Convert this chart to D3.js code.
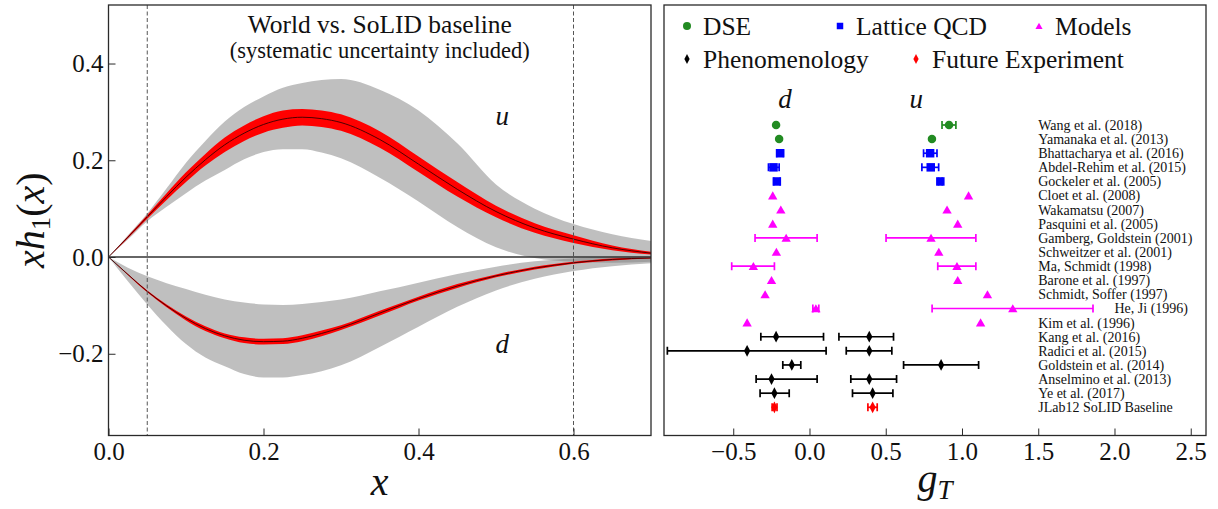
<!DOCTYPE html>
<html>
<head>
<meta charset="utf-8">
<script src="https://cdn.jsdelivr.net/npm/d3@7"></script>
<style>
body { margin: 0; background: #fff; }
</style>
</head>
<body>
<script>
// ---------- left panel data: x h1(x) for u and d ----------
const xs = [0, 0.025, 0.05, 0.075, 0.1, 0.125, 0.15, 0.175, 0.2, 0.225, 0.25, 0.275, 0.3, 0.35, 0.4, 0.45, 0.5, 0.55, 0.6, 0.65, 0.7]

const uCentral = [0, 0.041, 0.083, 0.125, 0.165, 0.201, 0.232, 0.256, 0.274, 0.285, 0.289, 0.286, 0.278, 0.243, 0.192, 0.140, 0.094, 0.060, 0.037, 0.019, 0.008]
const uRedHi   = [0, 0.043, 0.087, 0.132, 0.175, 0.213, 0.247, 0.272, 0.291, 0.303, 0.306, 0.303, 0.295, 0.260, 0.208, 0.155, 0.106, 0.070, 0.045, 0.024, 0.011]
const uRedLo   = [0, 0.039, 0.079, 0.118, 0.155, 0.189, 0.217, 0.240, 0.257, 0.267, 0.272, 0.269, 0.261, 0.226, 0.176, 0.125, 0.082, 0.050, 0.029, 0.014, 0.005]
const uGrayHi  = [0, 0.045, 0.090, 0.142, 0.195, 0.240, 0.280, 0.310, 0.332, 0.350, 0.360, 0.366, 0.368, 0.346, 0.303, 0.235, 0.150, 0.100, 0.068, 0.047, 0.033]
const uGrayLo  = [0, 0.036, 0.074, 0.104, 0.132, 0.158, 0.180, 0.202, 0.217, 0.223, 0.223, 0.216, 0.204, 0.164, 0.115, 0.062, 0.020, -0.002, -0.010, -0.012, -0.010]

const dCentral = [0, -0.036, -0.071, -0.101, -0.127, -0.148, -0.163, -0.172, -0.175, -0.174, -0.168, -0.158, -0.146, -0.116, -0.086, -0.060, -0.039, -0.023, -0.012, -0.005, -0.002]
const dRedHi   = [0, -0.035, -0.069, -0.098, -0.123, -0.143, -0.158, -0.166, -0.169, -0.168, -0.162, -0.152, -0.141, -0.111, -0.082, -0.056, -0.036, -0.020, -0.010, -0.003, -0.001]
const dRedLo   = [0, -0.037, -0.073, -0.104, -0.131, -0.153, -0.168, -0.178, -0.181, -0.180, -0.174, -0.164, -0.151, -0.121, -0.090, -0.064, -0.042, -0.026, -0.014, -0.007, -0.003]
const dGrayHi  = [0, -0.022, -0.040, -0.054, -0.066, -0.078, -0.088, -0.094, -0.098, -0.099, -0.097, -0.093, -0.088, -0.071, -0.053, -0.035, -0.020, -0.009, -0.003, 0.001, 0.002]
const dGrayLo  = [0, -0.050, -0.098, -0.142, -0.180, -0.208, -0.226, -0.242, -0.249, -0.249, -0.244, -0.236, -0.224, -0.186, -0.144, -0.103, -0.069, -0.045, -0.029, -0.019, -0.013]

const xTicks = [0, 0.2, 0.4, 0.6]
const yTicks = [-0.2, 0, 0.2, 0.4]
const cutLines = [0.05, 0.6]

// ---------- right panel data: tensor charges g_T ----------
const refs = ['Wang et al. (2018)', 'Yamanaka et al. (2013)', 'Bhattacharya et al. (2016)', 'Abdel-Rehim et al. (2015)',
  'Gockeler et al. (2005)', 'Cloet et al. (2008)', 'Wakamatsu (2007)', 'Pasquini et al. (2005)',
  'Gamberg, Goldstein (2001)', 'Schweitzer et al. (2001)', 'Ma, Schmidt (1998)', 'Barone et al. (1997)',
  'Schmidt, Soffer (1997)', 'He, Ji (1996)', 'Kim et al. (1996)', 'Kang et al. (2016)', 'Radici et al. (2015)',
  'Goldstein et al. (2014)', 'Anselmino et al. (2013)', 'Ye et al. (2017)', 'JLab12 SoLID Baseline']
const groups = ['DSE', 'DSE', 'Lattice', 'Lattice', 'Lattice', 'Models', 'Models', 'Models', 'Models', 'Models',
  'Models', 'Models', 'Models', 'Models', 'Models', 'Phen', 'Phen', 'Phen', 'Phen', 'Phen', 'Future']

const dVal = [-0.219, -0.199, -0.193, -0.236, -0.214, -0.241, -0.188, -0.241, -0.153, -0.217, -0.368, -0.249, -0.291, 0.042, -0.409, -0.219, -0.409, -0.116, -0.249, -0.230, -0.230]
const dLo  = [null, null, -0.214, -0.269, -0.234, null, null, null, -0.357, null, -0.510, null, null, 0.022, null, -0.319, -0.932, -0.175, -0.350, -0.324, -0.245]
const dHi  = [null, null, -0.171, -0.199, -0.193, null, null, null, 0.050, null, -0.230, null, null, 0.061, null, 0.092, 0.109, -0.057, 0.050, -0.133, -0.213]

const uVal = [0.915, 0.803, 0.791, 0.795, 0.858, 1.043, 0.902, 0.972, 0.797, 0.848, 0.967, 0.972, 1.167, 1.333, 1.122, 0.392, 0.392, 0.863, 0.392, 0.414, 0.414]
const uLo  = [0.869, null, 0.748, 0.737, 0.846, null, null, null, 0.502, null, 0.841, null, null, 0.804, null, 0.193, 0.241, 0.617, 0.271, 0.282, 0.383]
const uHi  = [0.960, null, 0.836, 0.847, 0.870, null, null, null, 1.091, null, 1.091, null, null, 1.859, null, 0.551, 0.540, 1.109, 0.571, 0.547, 0.444]

const refLabelPos = [1.5, 1.5, 1.5, 1.5, 1.5, 1.5, 1.5, 1.5, 1.5, 1.5, 1.5, 1.5, 1.5, 2.0, 1.5, 1.5, 1.5, 1.5, 1.5, 1.5, 1.5]
const gTicks = [-0.5, 0, 0.5, 1.0, 1.5, 2.0, 2.5]
const legendKeys = ['DSE', 'Lattice', 'Models', 'Phen', 'Future']
const legendLabels = ['DSE', 'Lattice QCD', 'Models', 'Phenomenology', 'Future Experiment']

// ---------- setup ----------
const width = 1218
const height = 509
const frameColor = '#2a2a2a'
const serif = "'Liberation Serif', 'Times New Roman', serif"

const svg = d3.select('body').append('svg')
  .attr('width', width)
  .attr('height', height)
  .style('font-family', serif)

const L = {left: 108.5, right: 651, top: 5, bottom: 435.5}
const R = {left: 664, right: 1206, top: 5, bottom: 435.5}

const xScale = d3.scaleLinear().domain([0, 0.7]).range([L.left, L.right])
const yScale = d3.scaleLinear().domain([-0.369, 0.521]).range([L.bottom, L.top])

const addText = (x, y, size, str) => svg.append('text')
  .attr('x', x).attr('y', y)
  .style('font-family', serif).style('font-size', size + 'px').attr('fill', '#111')
  .text(str)

// ========== left panel ==========
svg.append('clipPath').attr('id', 'clipL').append('rect')
  .attr('x', L.left).attr('y', L.top)
  .attr('width', L.right - L.left).attr('height', L.bottom - L.top)

const left = svg.append('g').attr('clip-path', 'url(#clipL)')

const band = (lo, hi) => d3.area()
  .x((d, i) => xScale(xs[i]))
  .y0((d, i) => yScale(lo[i]))
  .y1((d, i) => yScale(hi[i]))
  .curve(d3.curveMonotoneX)(xs)

const curve = (vals) => d3.line()
  .x((d, i) => xScale(xs[i]))
  .y((d, i) => yScale(vals[i]))
  .curve(d3.curveMonotoneX)(xs)

left.append('path').attr('d', band(uGrayLo, uGrayHi)).attr('fill', 'gray').attr('fill-opacity', 0.5)
left.append('path').attr('d', band(dGrayLo, dGrayHi)).attr('fill', 'gray').attr('fill-opacity', 0.5)
left.append('path').attr('d', band(uRedLo, uRedHi)).attr('fill', '#ff0000')
left.append('path').attr('d', band(dRedLo, dRedHi)).attr('fill', '#ff0000')
left.append('path').attr('d', curve(uCentral)).attr('fill', 'none').attr('stroke', '#3a0000').attr('stroke-width', 0.9)
left.append('path').attr('d', curve(dCentral)).attr('fill', 'none').attr('stroke', '#3a0000').attr('stroke-width', 0.9)

// zero line
left.append('line')
  .attr('x1', xScale(0)).attr('x2', xScale(0.7))
  .attr('y1', yScale(0)).attr('y2', yScale(0))
  .attr('stroke', '#333').attr('stroke-width', 1.5)

// x range of the measurement
left.selectAll('line.cut')
  .data(cutLines)
  .join('line')
  .attr('class', 'cut')
  .attr('x1', d => xScale(d)).attr('x2', d => xScale(d))
  .attr('y1', L.top).attr('y2', L.bottom)
  .attr('stroke', '#555').attr('stroke-width', 1)
  .attr('stroke-dasharray', '4,2.5')

// axes (ticks pointing inward)
const styleAxis = g => {
  g.attr('font-family', null)
  g.select('.domain').remove()
  g.selectAll('line').attr('stroke', frameColor).attr('stroke-width', 1)
  g.selectAll('text').style('font-size', '25px').style('font-family', serif).attr('fill', '#111')
}
const xAxis = d3.axisBottom(xScale).tickValues(xTicks).tickFormat(d3.format('.1f')).tickSize(-7).tickPadding(7)
const yAxis = d3.axisLeft(yScale).tickValues(yTicks).tickFormat(d3.format('.1f')).tickSize(-7).tickPadding(5)
svg.append('g').attr('transform', `translate(0,${L.bottom})`).call(xAxis).call(styleAxis)
svg.append('g').attr('transform', `translate(${L.left},0)`).call(yAxis).call(styleAxis)

svg.append('rect')
  .attr('x', L.left).attr('y', L.top)
  .attr('width', L.right - L.left).attr('height', L.bottom - L.top)
  .attr('fill', 'none').attr('stroke', frameColor).attr('stroke-width', 1.3)

// titles and labels
const cx = (L.left + L.right) / 2
addText(cx, 33, 25.5, 'World vs. SoLID baseline').attr('text-anchor', 'middle')
addText(cx, 58, 22.5, '(systematic uncertainty included)').attr('text-anchor', 'middle')

addText(xScale(0.508), 125, 27, 'u').attr('text-anchor', 'middle').style('font-style', 'italic')
addText(xScale(0.508), 353, 27, 'd').attr('text-anchor', 'middle').style('font-style', 'italic')
addText(cx, 495, 40, 'x').attr('text-anchor', 'middle').style('font-style', 'italic')

const ylab = svg.append('text')
  .attr('transform', `translate(44,${(L.top + L.bottom) / 2}) rotate(-90)`)
  .attr('text-anchor', 'middle')
  .style('font-family', serif).style('font-size', '40px').attr('fill', '#111')
ylab.append('tspan').style('font-style', 'italic').text('xh')
ylab.append('tspan').style('font-size', '27px').attr('dy', 6).text('1')
ylab.append('tspan').attr('dy', -6).text('(')
ylab.append('tspan').style('font-style', 'italic').text('x')
ylab.append('tspan').text(')')

// ========== right panel ==========
const gScale = d3.scaleLinear().domain([-0.954, 2.6]).range([R.left, R.right])
const rowScale = d3.scaleLinear().domain([0, refs.length - 1]).range([125, 407.3])

const styles = {
  DSE: {color: '#228b22', shape: 'circle'},
  Lattice: {color: '#0000ff', shape: 'square'},
  Models: {color: '#ff00ff', shape: 'triangle'},
  Phen: {color: '#000000', shape: 'diamond'},
  Future: {color: '#ff0000', shape: 'diamond'}
}

const markerPath = (shape, s) => {
  if (shape === 'circle') return d3.symbol(d3.symbolCircle, Math.PI * s * s / 4)()
  if (shape === 'square') return `M${-s / 2},${-s / 2}h${s}v${s}h${-s}Z`
  if (shape === 'triangle') return `M0,${-s * 0.5}L${s * 0.55},${s * 0.45}L${-s * 0.55},${s * 0.45}Z`
  return `M0,${-s * 0.62}L${s * 0.33},0L0,${s * 0.62}L${-s * 0.33},0Z`
}

const right = svg.append('g')

const points = []
refs.forEach((r, i) => {
  points.push({row: i, grp: groups[i], v: dVal[i], lo: dLo[i], hi: dHi[i]})
  points.push({row: i, grp: groups[i], v: uVal[i], lo: uLo[i], hi: uHi[i]})
})
const withErr = points.filter(p => p.lo !== null)

right.selectAll('line.bar')
  .data(withErr)
  .join('line')
  .attr('class', 'bar')
  .attr('x1', d => gScale(d.lo)).attr('x2', d => gScale(d.hi))
  .attr('y1', d => rowScale(d.row)).attr('y2', d => rowScale(d.row))
  .attr('stroke', d => styles[d.grp].color).attr('stroke-width', 1.7)

right.selectAll('path.cap')
  .data(withErr)
  .join('path')
  .attr('class', 'cap')
  .attr('d', d => {
    const y = rowScale(d.row)
    return `M${gScale(d.lo)},${y - 4}V${y + 4}M${gScale(d.hi)},${y - 4}V${y + 4}`
  })
  .attr('stroke', d => styles[d.grp].color).attr('stroke-width', 1.7).attr('fill', 'none')

right.selectAll('path.pt')
  .data(points)
  .join('path')
  .attr('class', 'pt')
  .attr('transform', d => `translate(${gScale(d.v)},${rowScale(d.row)})`)
  .attr('d', d => markerPath(styles[d.grp].shape, styles[d.grp].shape === 'diamond' ? 9.5 : 8.5))
  .attr('fill', d => styles[d.grp].color)

right.selectAll('text.ref')
  .data(refs)
  .join('text')
  .attr('class', 'ref')
  .attr('x', (d, i) => gScale(refLabelPos[i]))
  .attr('y', (d, i) => rowScale(i))
  .attr('dy', '0.35em')
  .style('font-family', serif)
  .style('font-size', '14px')
  .attr('fill', '#111')
  .text(d => d)

// flavour labels
addText(gScale(-0.16), 108, 27, 'd').attr('text-anchor', 'middle').style('font-style', 'italic')
addText(gScale(0.7), 108, 27, 'u').attr('text-anchor', 'middle').style('font-style', 'italic')

// legend
const legendPos = [[687, 26], [840, 26], [1039, 26], [687, 59], [916, 59]]
legendKeys.forEach((k, i) => {
  const [lx, ly] = legendPos[i]
  const st = styles[k]
  svg.append('path')
    .attr('transform', `translate(${lx},${ly})`)
    .attr('d', markerPath(st.shape, st.shape === 'diamond' ? 8 : (st.shape === 'circle' ? 8 : 6.5)))
    .attr('fill', st.color)
  addText(lx + 16, ly + 9, 25.5, legendLabels[i])
})

const gAxis = d3.axisBottom(gScale).tickValues(gTicks).tickFormat(d3.format('.1f')).tickSize(-7).tickPadding(7)
svg.append('g').attr('transform', `translate(0,${R.bottom})`).call(gAxis).call(styleAxis)

svg.append('rect')
  .attr('x', R.left).attr('y', R.top)
  .attr('width', R.right - R.left).attr('height', R.bottom - R.top)
  .attr('fill', 'none').attr('stroke', frameColor).attr('stroke-width', 1.3)

const glab = svg.append('text').attr('x', (R.left + R.right) / 2).attr('y', 492)
  .attr('text-anchor', 'middle').style('font-style', 'italic')
  .style('font-family', serif).style('font-size', '40px').attr('fill', '#111')
glab.append('tspan').text('g')
glab.append('tspan').style('font-size', '27px').attr('dy', 7).text('T')
</script>
</body>
</html>
